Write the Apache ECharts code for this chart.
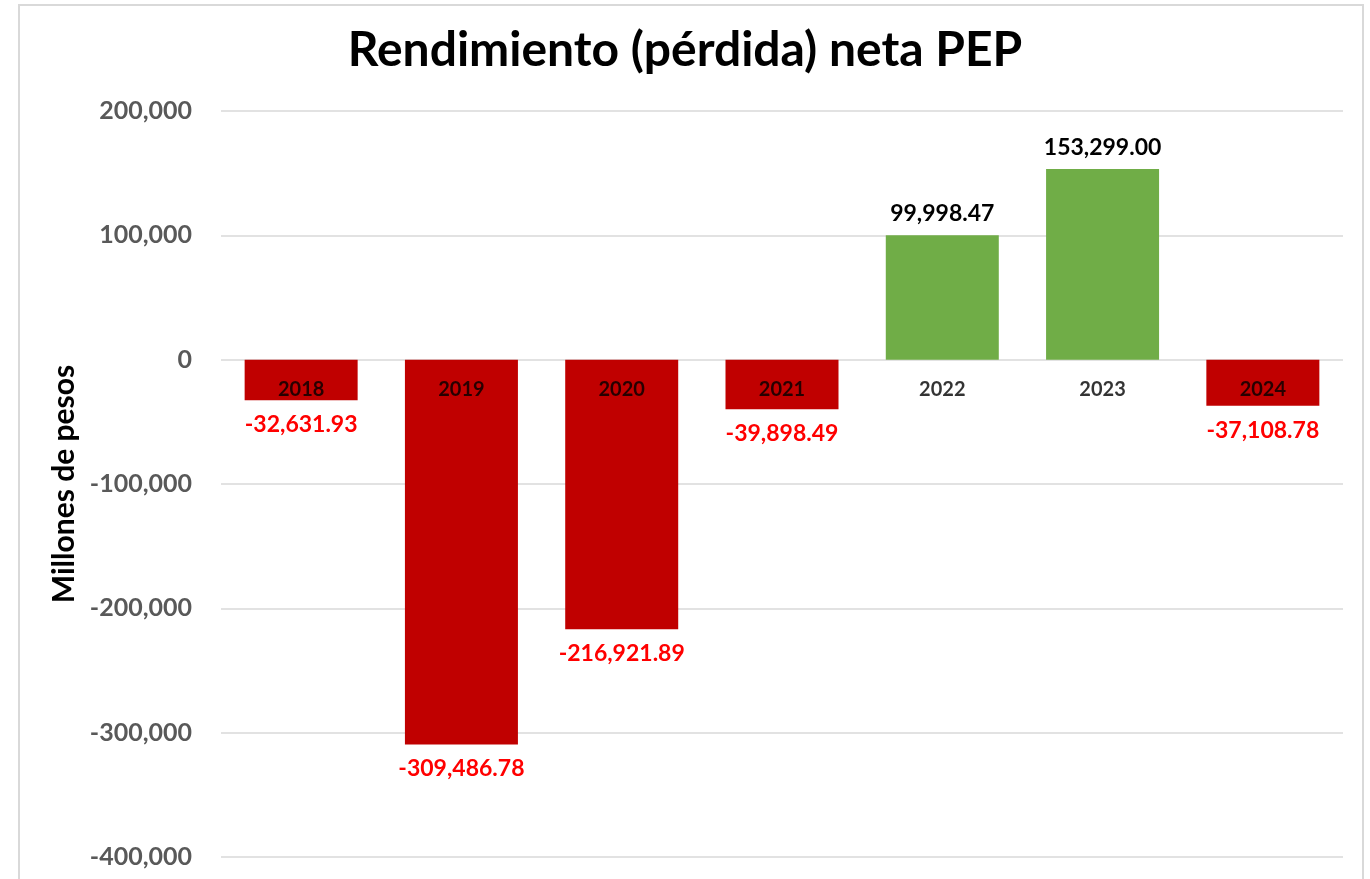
<!DOCTYPE html>
<html>
<head>
<meta charset="utf-8">
<script src="https://cdn.jsdelivr.net/npm/echarts@6/dist/echarts.min.js"></script>
<style>
  html, body { margin: 0; padding: 0; background: #fff; }
  #main { width: 1370px; height: 879px; }
</style>
</head>
<body>
<div id="main"></div>
<script>
const years = ['2018', '2019', '2020', '2021', '2022', '2023', '2024'];
const netResult = [-32631.93, -309486.78, -216921.89, -39898.49, 99998.47, 153299.00, -37108.78];
const yTicks = [-400000, -300000, -200000, -100000, 0, 100000, 200000];

const FONT = 'Lato, "Open Sans", sans-serif';

function fmt(v, dec) {
  return v.toLocaleString('en-US', { minimumFractionDigits: dec, maximumFractionDigits: dec });
}

let myChart = echarts.init(document.getElementById('main'));
myChart.setOption({
  animation: false,
  textStyle: { fontFamily: FONT },
  graphic: [{
    type: 'rect',
    shape: { x: 19, y: 5, width: 1344, height: 900 },
    style: { fill: 'none', stroke: '#d9d9d9', lineWidth: 2 },
    silent: true
  }],
  title: {
    text: 'Rendimiento (pérdida) neta PEP',
    left: 'center',
    top: 22,
    textStyle: { fontSize: 48, fontWeight: 'bold', color: '#000', fontFamily: FONT }
  },
  grid: { left: 221, right: 27, top: 111, bottom: 22, outerBoundsMode: 'none', containLabel: false },
  xAxis: {
    type: 'category',
    data: years,
    axisLine: { show: false },
    axisTick: { show: false },
    axisLabel: { show: false }
  },
  yAxis: {
    type: 'value',
    min: yTicks[0],
    max: yTicks[yTicks.length - 1],
    interval: 100000,
    name: 'Millones de pesos',
    nameLocation: 'middle',
    nameGap: 138,
    nameTextStyle: { fontSize: 30, fontWeight: 'bold', color: '#000', fontFamily: FONT },
    axisLine: { show: false },
    axisTick: { show: false },
    axisLabel: {
      color: '#595959', fontSize: 25, fontWeight: 'bold', margin: 29, fontFamily: FONT,
      formatter: v => fmt(v, 0)
    },
    splitLine: { lineStyle: { color: '#d9d9d9', width: 1.5 } }
  },
  series: [{
    type: 'bar',
    barWidth: 113,
    z: 2,
    data: netResult.map(v => ({
      value: v,
      itemStyle: { color: v < 0 ? '#c00000' : '#70ad47' },
      label: {
        show: true,
        position: v < 0 ? 'bottom' : 'top',
        distance: v < 0 ? 13 : 10,
        color: v < 0 ? '#ff0000' : '#000',
        fontSize: 23,
        fontWeight: 'bold',
        fontFamily: FONT,
        formatter: p => fmt(p.value, 2)
      }
    }))
  }, {
    // category labels sitting just under the zero line
    type: 'scatter',
    symbolSize: 0,
    z: 5,
    silent: true,
    data: years.map(() => 0),
    label: {
      show: true,
      position: 'bottom',
      distance: 20,
      color: '#000',
      fontSize: 20,
      fontWeight: 'bold',
      fontFamily: FONT,
      formatter: p => years[p.dataIndex]
    }
  }]
});
</script>
</body>
</html>
